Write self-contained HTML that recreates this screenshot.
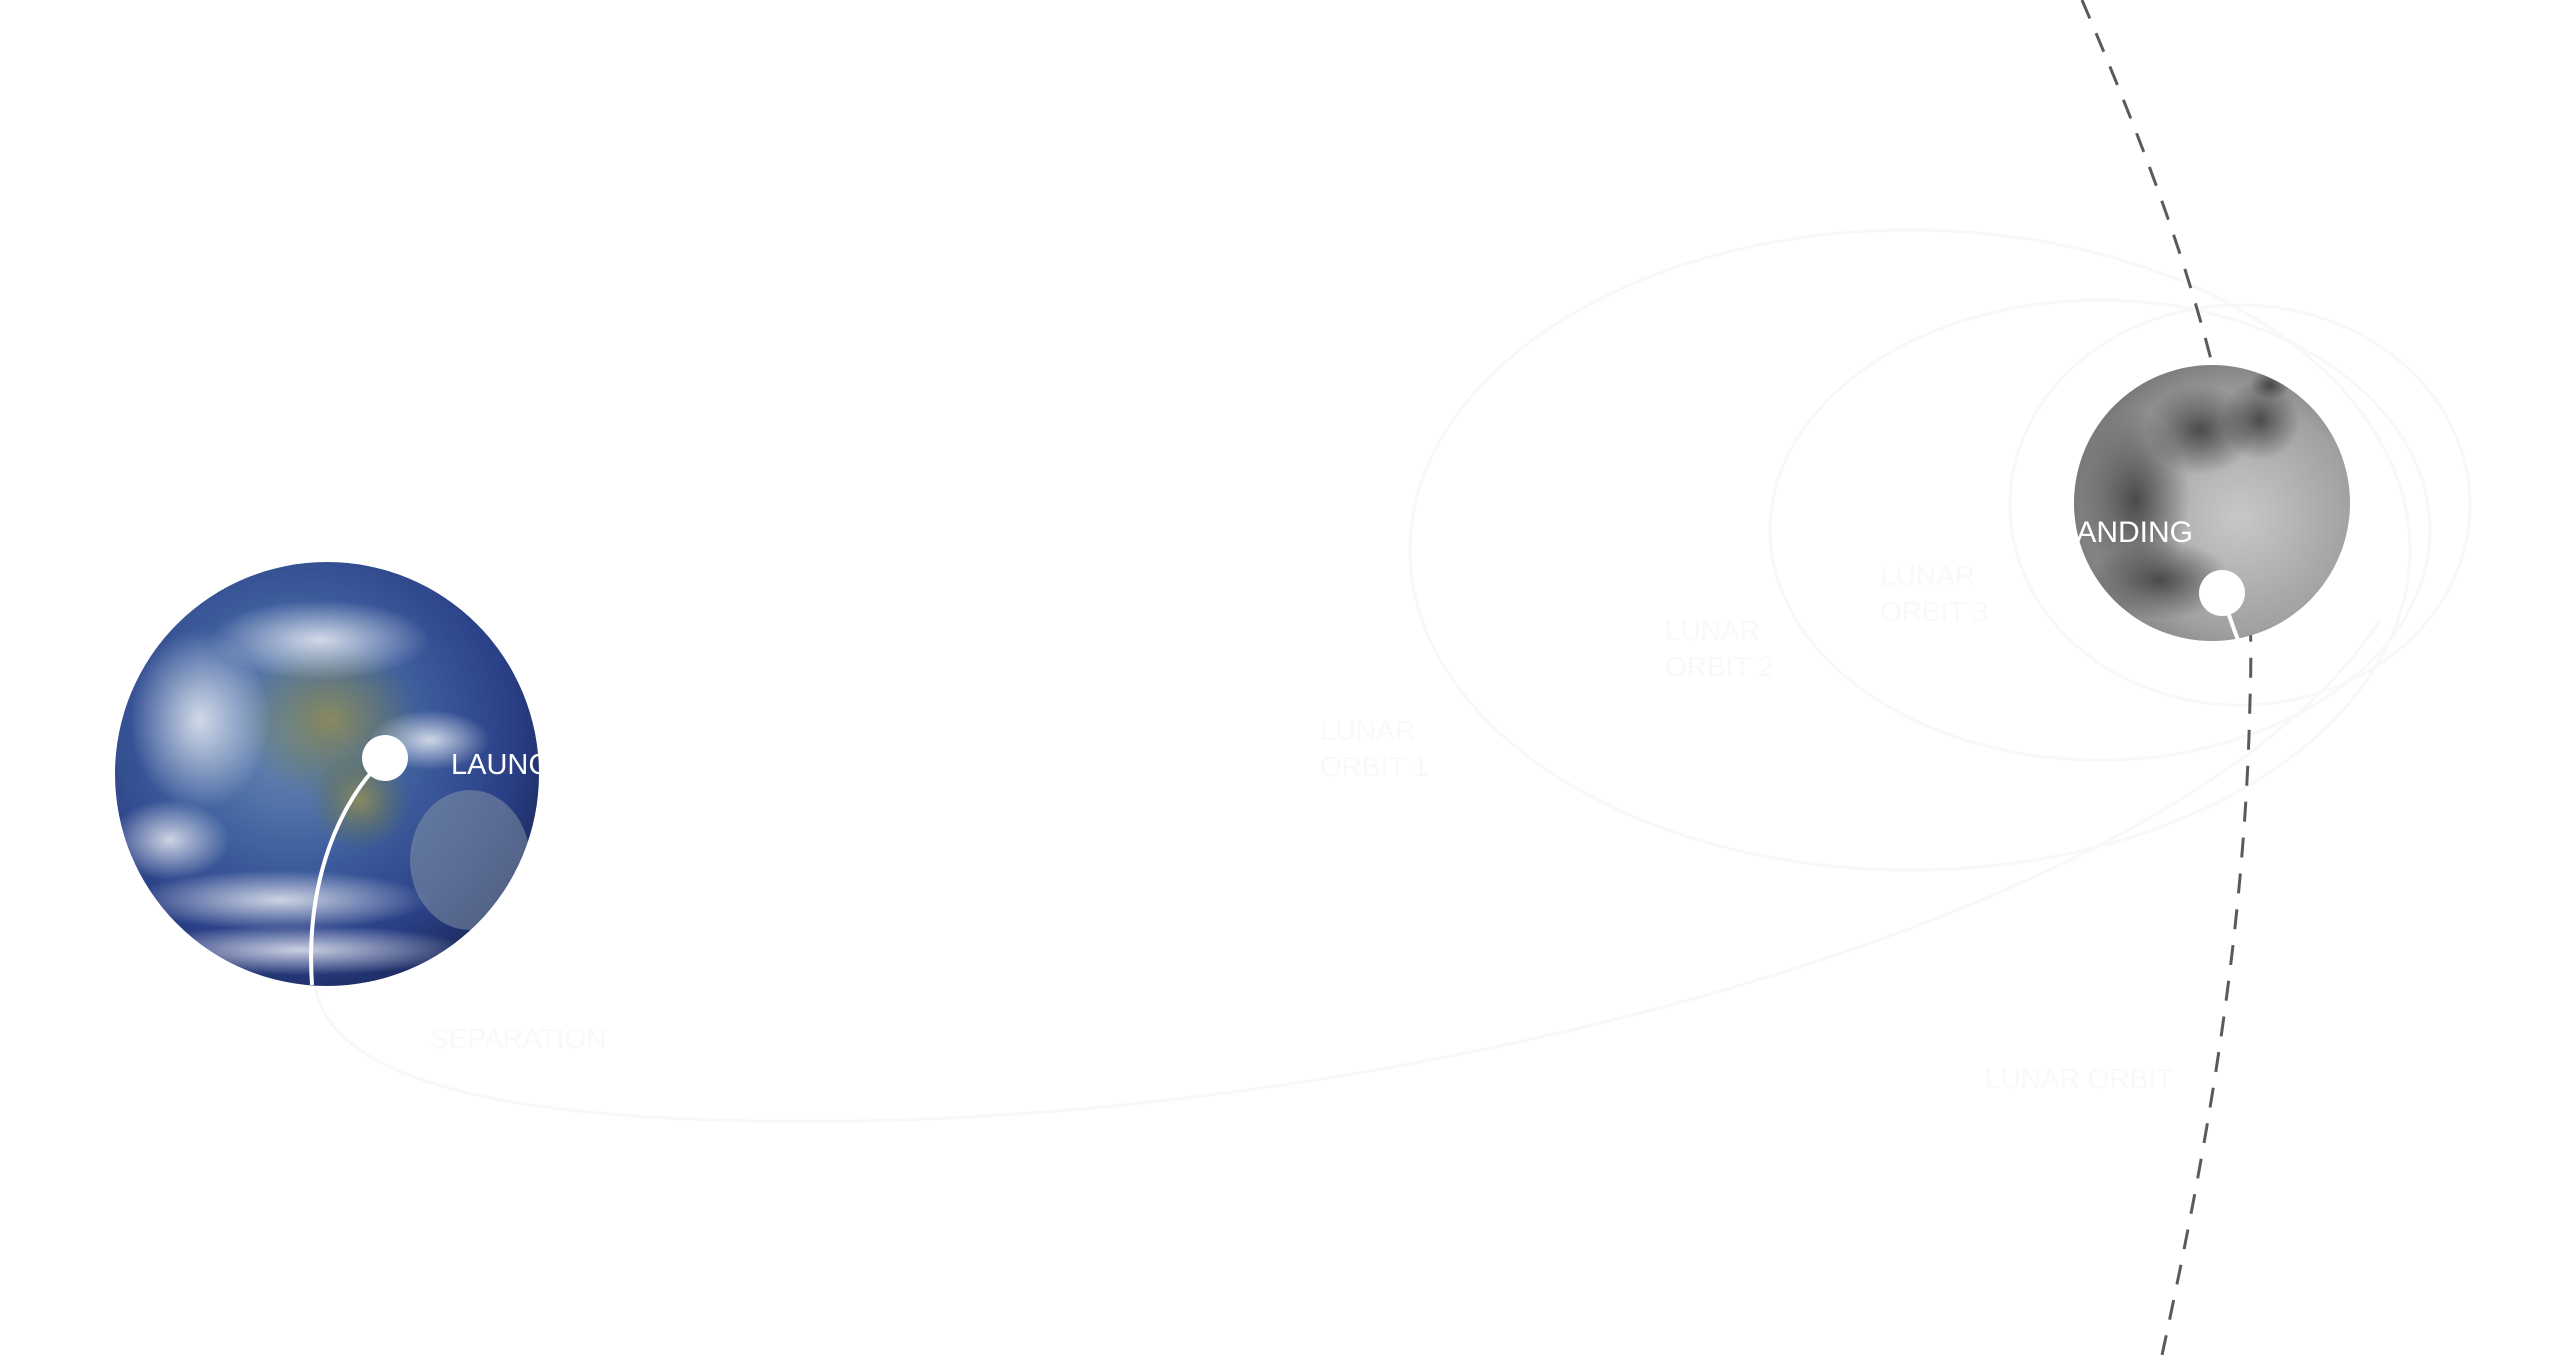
<!DOCTYPE html>
<html><head><meta charset="utf-8"><style>
html,body{margin:0;padding:0;background:#fff;width:2560px;height:1369px;overflow:hidden}
svg{display:block}
</style></head><body>
<svg width="2560" height="1369" viewBox="0 0 2560 1369" xmlns="http://www.w3.org/2000/svg">
<defs>
<radialGradient id="earth" cx="0.42" cy="0.4" r="0.65">
<stop offset="0" stop-color="#6f8fb8"/>
<stop offset="0.45" stop-color="#3f5f9e"/>
<stop offset="0.8" stop-color="#2a3f86"/>
<stop offset="1" stop-color="#1c2a5e"/>
</radialGradient>
<radialGradient id="land" cx="0.5" cy="0.5" r="0.5">
<stop offset="0" stop-color="#8a8a60"/>
<stop offset="1" stop-color="#5d6e45" stop-opacity="0"/>
</radialGradient>
<radialGradient id="cloud" cx="0.5" cy="0.5" r="0.5">
<stop offset="0" stop-color="#ffffff" stop-opacity="0.75"/>
<stop offset="1" stop-color="#ffffff" stop-opacity="0"/>
</radialGradient>
<radialGradient id="moon" cx="0.6" cy="0.55" r="0.6">
<stop offset="0" stop-color="#c8c8c8"/>
<stop offset="0.7" stop-color="#a0a0a0"/>
<stop offset="1" stop-color="#7a7a7a"/>
</radialGradient>
<radialGradient id="mare" cx="0.5" cy="0.5" r="0.5">
<stop offset="0" stop-color="#3a3a3a" stop-opacity="0.85"/>
<stop offset="1" stop-color="#3a3a3a" stop-opacity="0"/>
</radialGradient>
<clipPath id="ec"><circle cx="327" cy="774" r="212"/></clipPath>
<clipPath id="mc"><circle cx="2212" cy="503" r="138"/></clipPath>
</defs>

<g fill="none" stroke="#f8f8f8" stroke-width="3">
<ellipse cx="1910" cy="550" rx="500" ry="320"/>
<ellipse cx="2100" cy="530" rx="330" ry="230"/>
<ellipse cx="2240" cy="505" rx="230" ry="200"/>
<path d="M315 985 C 330 1080 500 1130 900 1120 C 1500 1100 2200 900 2380 620"/>
</g>
<g font-family="Liberation Sans, sans-serif" fill="#f9f9f9" font-size="28">
<text x="430" y="1048">SEPARATION</text>
<text x="1985" y="1088">LUNAR ORBIT</text>
<text x="1320" y="740">LUNAR</text><text x="1320" y="776">ORBIT 1</text>
<text x="1665" y="640">LUNAR</text><text x="1665" y="676">ORBIT 2</text>
<text x="1880" y="585">LUNAR</text><text x="1880" y="621">ORBIT 3</text>
</g>

<circle cx="327" cy="774" r="212" fill="url(#earth)"/>
<g clip-path="url(#ec)">
<ellipse cx="330" cy="720" rx="90" ry="80" fill="url(#land)"/>
<ellipse cx="360" cy="800" rx="50" ry="50" fill="url(#land)"/>
<ellipse cx="320" cy="640" rx="110" ry="40" fill="url(#cloud)"/>
<ellipse cx="200" cy="720" rx="70" ry="90" fill="url(#cloud)"/>
<ellipse cx="430" cy="740" rx="60" ry="30" fill="url(#cloud)"/>
<ellipse cx="280" cy="900" rx="150" ry="30" fill="url(#cloud)"/>
<ellipse cx="300" cy="950" rx="170" ry="25" fill="url(#cloud)"/>
<ellipse cx="470" cy="860" rx="60" ry="70" fill="#8a9aa8" opacity="0.5"/>
<ellipse cx="170" cy="840" rx="60" ry="40" fill="url(#cloud)"/>
</g>
<path d="M385 758 C 340 800 305 880 312 985" fill="none" stroke="#fff" stroke-width="4"/>
<circle cx="385" cy="758" r="23" fill="#fff"/>
<text x="451" y="774" font-family="Liberation Sans, sans-serif" font-size="29" fill="#fff">LAUNCH</text>

<path d="M2082 0 C 2180 230 2260 450 2250 700 C 2245 950 2200 1180 2159 1369" fill="none" stroke="#5a5a5a" stroke-width="3" stroke-dasharray="20 16"/>

<circle cx="2212" cy="503" r="138" fill="url(#moon)"/>
<g clip-path="url(#mc)">
<ellipse cx="2135" cy="500" rx="55" ry="90" fill="url(#mare)"/>
<ellipse cx="2200" cy="430" rx="55" ry="45" fill="url(#mare)"/>
<ellipse cx="2260" cy="420" rx="40" ry="40" fill="url(#mare)"/>
<ellipse cx="2160" cy="580" rx="70" ry="40" fill="url(#mare)"/>
<ellipse cx="2270" cy="385" rx="20" ry="15" fill="url(#mare)"/>
</g>
<path d="M2222 593 Q 2230 620 2240 645" fill="none" stroke="#fff" stroke-width="4"/>
<circle cx="2222" cy="593" r="23" fill="#fff"/>
<text x="2193" y="542" text-anchor="end" font-family="Liberation Sans, sans-serif" font-size="30" fill="#fff">LANDING</text>
</svg>
</body></html>
